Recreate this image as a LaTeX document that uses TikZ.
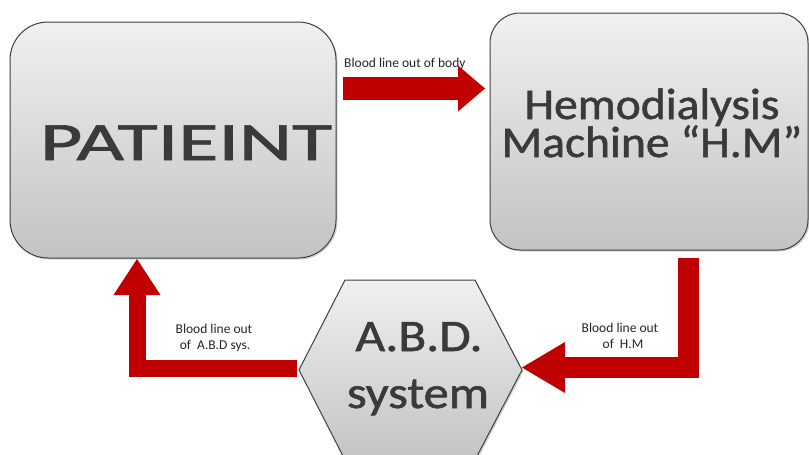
\documentclass[tikz,border=0pt]{standalone}
\usepackage{fontspec}
\setmainfont{Carlito}
\newfontfamily\wordfont[FakeBold=1.2]{Carlito}
\usetikzlibrary{shadows,arrows.meta}
\definecolor{bred}{HTML}{C00000}
\definecolor{boxtop}{HTML}{F0F0F0}
\definecolor{boxbot}{HTML}{C3C3C3}
\definecolor{boxline}{HTML}{404040}
\definecolor{wordfill}{HTML}{3A3A3A}
\definecolor{labeltext}{HTML}{262626}
\newcommand{\twolines}[2]{\vtop{\baselineskip=38pt\lineskiplimit=-100pt\hbox to 280pt{\hss#1\hss}\hbox to 280pt{\hss#2\hss}}}
\begin{document}
\begin{tikzpicture}[x=1pt,y=-1pt,
  panel/.style={draw=boxline, line width=1pt, top color=boxtop, bottom color=boxbot,
    drop shadow={opacity=0.35, shadow xshift=1.5pt, shadow yshift=-1.5pt}},
  word/.style={inner sep=0pt, anchor=base, text=wordfill},
  lab/.style={inner sep=0pt, anchor=base, text=labeltext, font=\fontsize{13.5}{15}\selectfont},
  flow/.style={draw=bred, line join=miter},
]
\clip (0,0) rectangle (809,455);
\fill[white] (0,0) rectangle (809,455);
% boxes
\node[panel, rounded corners=38pt, minimum width=326pt, minimum height=236pt] (pat) at (173,140) {};
\node[panel, rounded corners=30pt, minimum width=318pt, minimum height=237pt] (hm) at (649,131.5) {};
\path[panel] (299,370) -- (345,280) -- (475,280) -- (522,370) -- (475,460) -- (345,460) -- cycle;
\coordinate (abdL) at (297,368.5);
\coordinate (abdR) at (522,367.5);
% big words
\node[word, font=\wordfont\fontsize{54}{54}\selectfont] (patword) at (186,160) {\scalebox{1.52}[1]{PATIEINT}};
\node[word, font=\wordfont\fontsize{44}{44}\selectfont] (hmword) at (652,119) {\scalebox{1.08}[1]{\twolines{Hemodialysis}{Machine “H.M”}}};
\node[word, font=\wordfont\fontsize{45}{45}\selectfont] (abd1) at (419,351) {\scalebox{1.14}[1]{A.B.D.}};
\node[word, font=\wordfont\fontsize{45}{45}\selectfont] (abd2) at (418,408) {\scalebox{1.12}[1]{system}};
% labels
\node[lab, anchor=base west] (l1) at (344,67) {Blood line out of body};
\node[lab] (l2a) at (214,333) {Blood line out};
\node[lab] (l2b) at (215,349) {of~~A.B.D sys.};
\node[lab] (l3a) at (620,332) {Blood line out};
\node[lab] (l3b) at (623,348) {of~~H.M};
% arrows
\coordinate (a1s) at (343,88.5);
\coordinate (a1e) at (485,88.5);
\coordinate (a2s) at (688.5,258);
\coordinate (a3e) at (137,259);
\draw[flow, line width=23pt, -{Triangle[length=27pt,width=46pt,line width=0pt]}] (a1s) -- (a1e);
\draw[flow, line width=21pt, -{Triangle[length=43pt,width=51pt,line width=0pt]}] (a2s) |- (abdR);
\draw[flow, line width=17pt, -{Triangle[length=36pt,width=47pt,line width=0pt]}] (abdL) -| (a3e);
\end{tikzpicture}
\end{document}
